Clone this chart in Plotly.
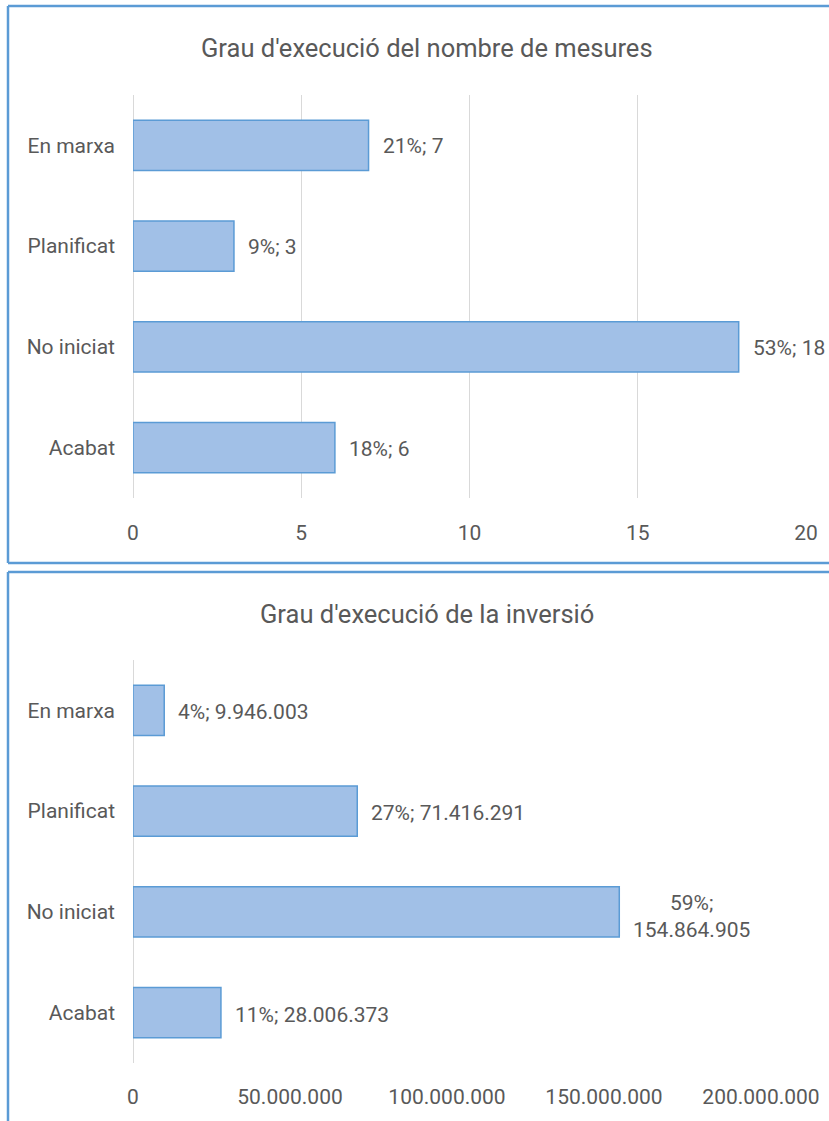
import plotly.graph_objects as go

# ---- data ----
categories = ["Acabat", "No iniciat", "Planificat", "En marxa"]
mesures = [6, 18, 3, 7]
inversio = [28006373, 154864905, 71416291, 9946003]
wrap_inversio = [False, True, False, False]
title1 = "Grau d'execució del nombre de mesures"
title2 = "Grau d'execució de la inversió"
ticks1 = [0, 5, 10, 15, 20]
ticks2 = [0, 50000000, 100000000, 150000000, 200000000]

W, H = 829, 1121
FONT = "Roboto"
GRAY = "#595959"
BORDER = "#5B9BD5"
FILL = "#A1C0E7"
GRID = "#D9D9D9"
FS = 21


def px(x):
    return x / W


def py(y):
    return 1 - y / H


def fmt(v):
    return f"{v:,}".replace(",", ".")


def pct(v, tot):
    return f"{int(v / tot * 100 + 0.5)}%"


fig = go.Figure()
bar_style = dict(orientation="h", width=0.5,
                 marker=dict(color=FILL, line=dict(color=BORDER, width=1.5)),
                 hoverinfo="skip", showlegend=False)
fig.add_trace(go.Bar(x=mesures, y=categories, xaxis="x", yaxis="y", **bar_style))
fig.add_trace(go.Bar(x=inversio, y=categories, xaxis="x2", yaxis="y2", **bar_style))

annotations = []
tot1 = sum(mesures)
for c, v in zip(categories, mesures):
    annotations.append(dict(x=v, y=c, xref="x", yref="y", xanchor="left", xshift=12,
                            yshift=-1,
                            text=f"{pct(v, tot1)}; {fmt(v)}", showarrow=False,
                            font=dict(family=FONT, size=FS, color=GRAY)))
tot2 = sum(inversio)
for c, v, w in zip(categories, inversio, wrap_inversio):
    sep = ";<br>" if w else "; "
    annotations.append(dict(x=v, y=c, xref="x2", yref="y2", xanchor="left", xshift=12,
                            yshift=-5 if w else -2, align="center",
                            text=f"{pct(v, tot2)}{sep}{fmt(v)}", showarrow=False,
                            font=dict(family=FONT, size=FS, color=GRAY)))

annotations.append(dict(x=px(427), y=py(48), xref="paper", yref="paper", text=title1,
                        showarrow=False, xanchor="center", yanchor="middle",
                        font=dict(family=FONT, size=25.5, color=GRAY)))
annotations.append(dict(x=px(427), y=py(614), xref="paper", yref="paper", text=title2,
                        showarrow=False, xanchor="center", yanchor="middle",
                        font=dict(family=FONT, size=25.5, color=GRAY)))

bl = dict(color=BORDER, width=2.5)
shapes = [
    # first box (right side is beyond the view)
    dict(type="line", xref="paper", yref="paper", x0=px(8), x1=1, y0=py(6), y1=py(6), line=bl),
    dict(type="line", xref="paper", yref="paper", x0=px(8), x1=px(8), y0=py(6), y1=py(563), line=bl),
    dict(type="line", xref="paper", yref="paper", x0=px(8), x1=1, y0=py(563), y1=py(563), line=bl),
    # second box (right and bottom beyond the view)
    dict(type="line", xref="paper", yref="paper", x0=px(8), x1=1, y0=py(572), y1=py(572), line=bl),
    dict(type="line", xref="paper", yref="paper", x0=px(8), x1=px(8), y0=py(572), y1=0, line=bl),
]

tickfont = dict(family=FONT, size=FS, color=GRAY)
yaxis_common = dict(type="category", categoryorder="array", categoryarray=categories,
                    range=[-0.5, 3.5], showgrid=False, zeroline=False, showline=False,
                    ticks="", ticklabelstandoff=17, tickfont=tickfont, fixedrange=True,
                    automargin=False)

fig.update_layout(
    width=W, height=H,
    margin=dict(l=0, r=0, t=0, b=0, autoexpand=False),
    paper_bgcolor="white", plot_bgcolor="white",
    separators=",.",
    bargap=0.5,
    xaxis=dict(domain=[px(133), px(806)], anchor="y", range=[0, 20], tickvals=ticks1,
               showgrid=True, gridcolor=GRID, gridwidth=1, zeroline=True,
               zerolinecolor=GRID, zerolinewidth=1, showline=False, ticks="",
               ticklabelstandoff=20, tickfont=tickfont, automargin=False),
    yaxis=dict(domain=[py(498), py(95)], anchor="x", **yaxis_common),
    xaxis2=dict(domain=[px(133), px(761)], anchor="y2", range=[0, 200000000],
                tickvals=ticks2, tickformat=",d",
                showgrid=False, zeroline=True, zerolinecolor=GRID, zerolinewidth=1,
                showline=False, ticks="", ticklabelstandoff=19, tickfont=tickfont,
                automargin=False),
    yaxis2=dict(domain=[py(1063), py(660)], anchor="x2", **yaxis_common),
    annotations=annotations,
    shapes=shapes,
)

fig.write_html("out.html", config={"displayModeBar": False},
               post_script="document.body.style.margin='0';document.body.style.overflow='hidden';")
